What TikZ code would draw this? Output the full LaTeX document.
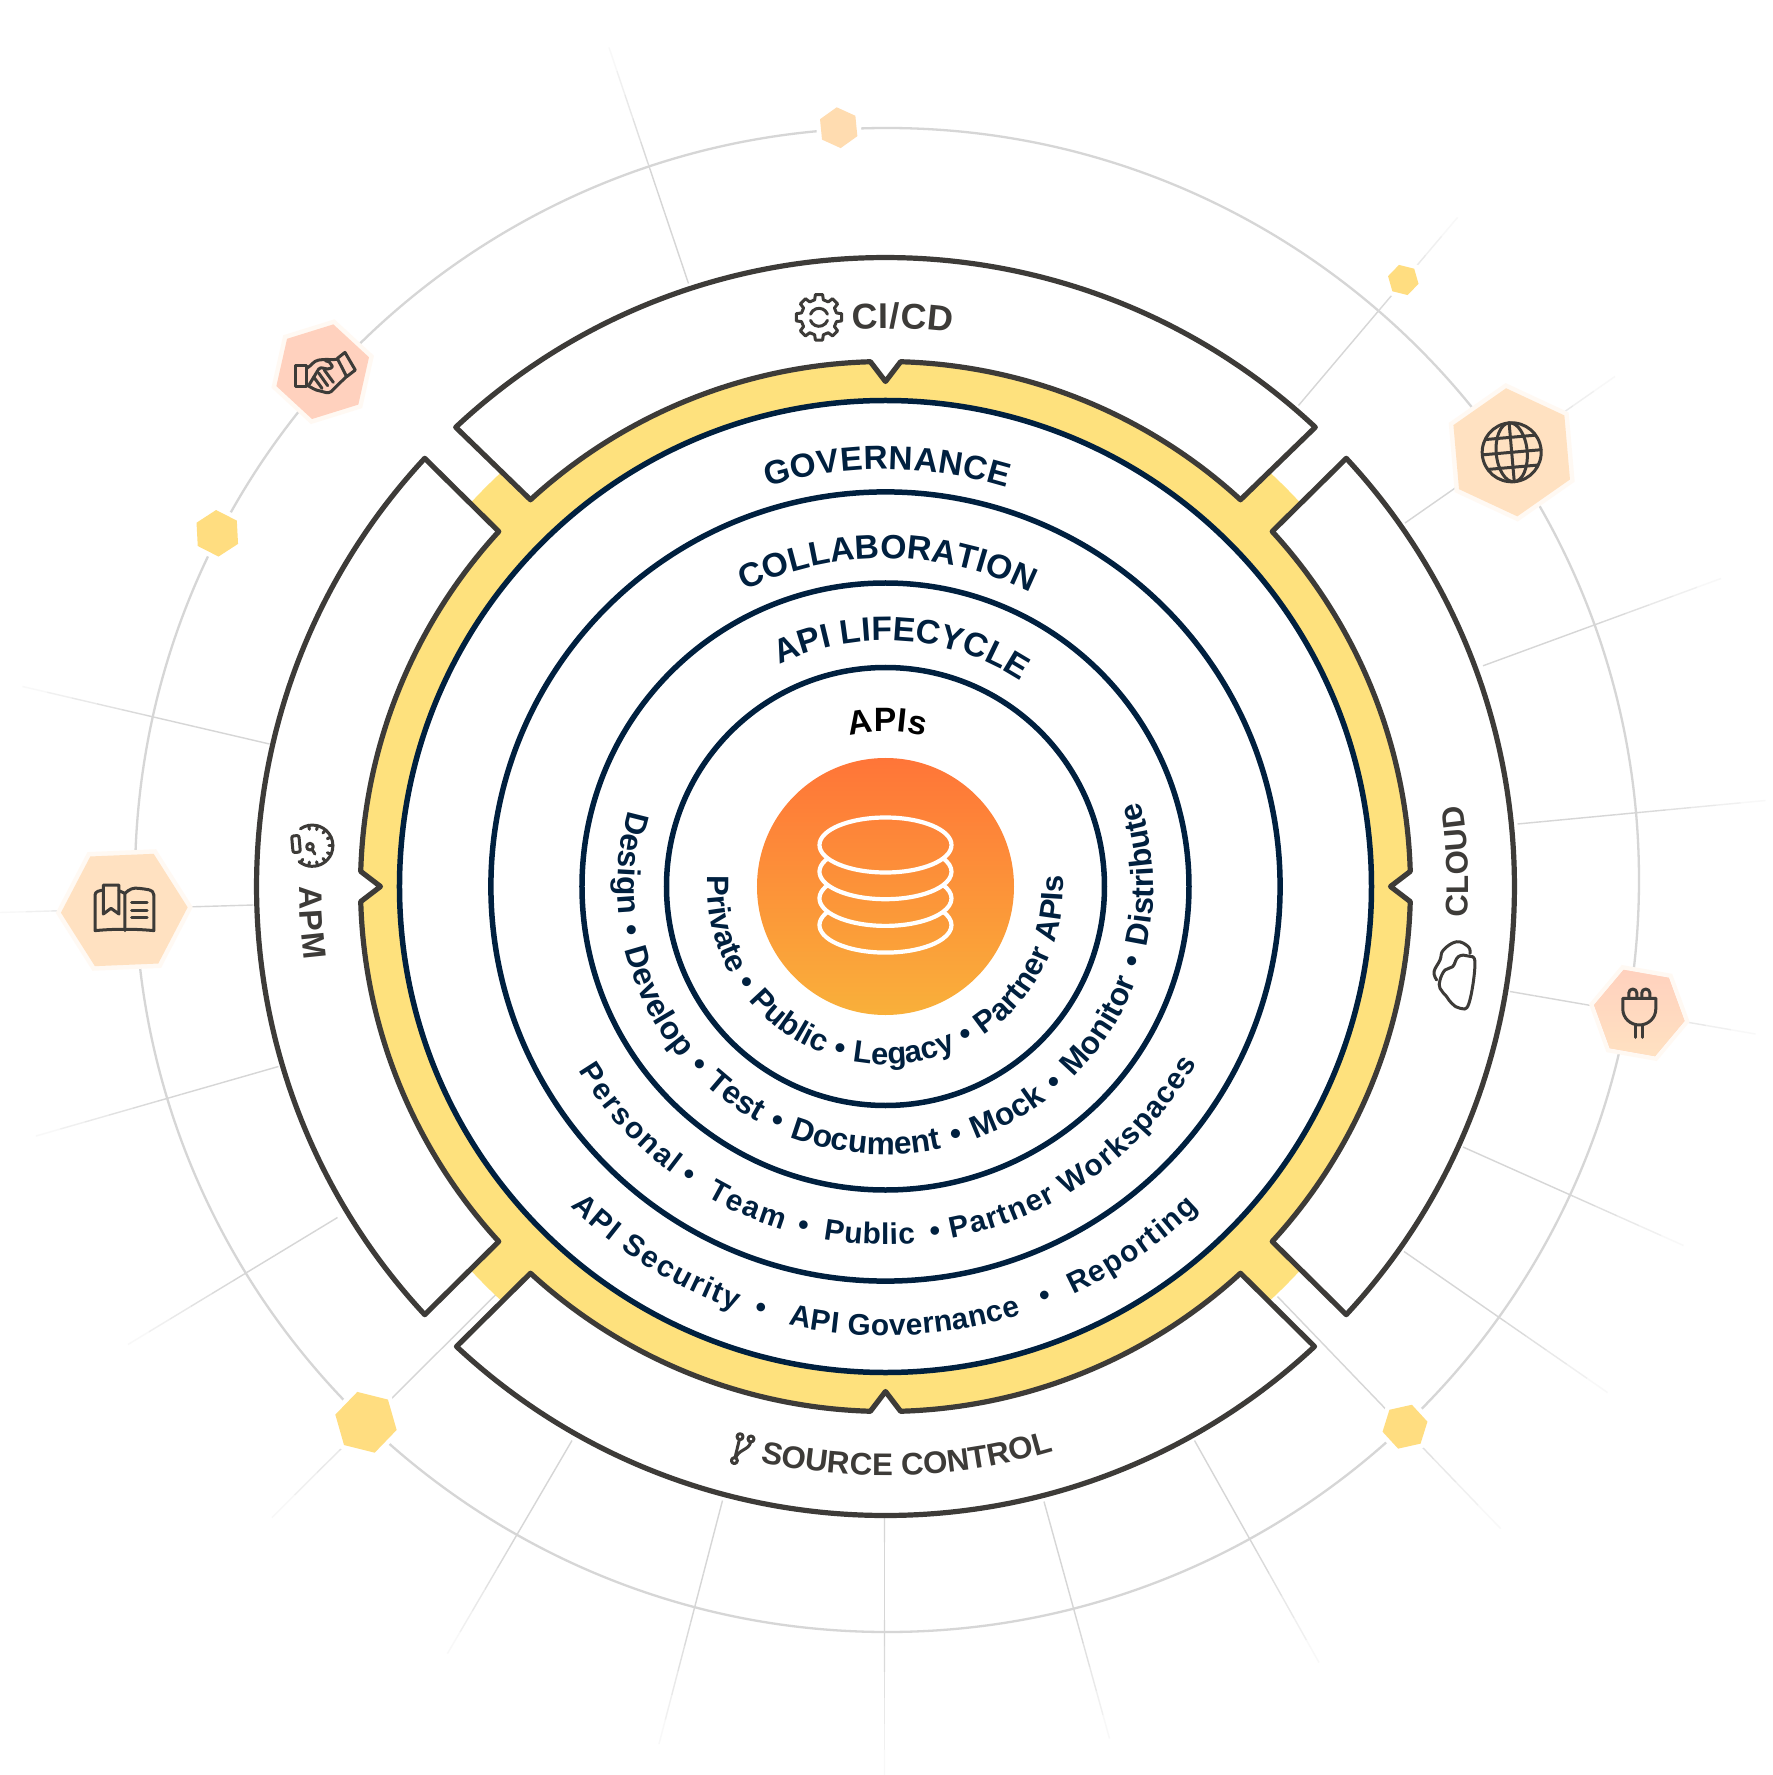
\documentclass[tikz,border=0pt]{standalone}
\usepackage{fontspec}
\setmainfont{Liberation Sans}
\usetikzlibrary{shapes.geometric,decorations.text,calc}
\definecolor{navy}{HTML}{00203F}
\definecolor{band}{HTML}{3D3B38}
\definecolor{grid}{HTML}{D6D6D6}
\definecolor{ribbon}{HTML}{FEE17D}
\definecolor{sand}{HTML}{FFE1C1}
\definecolor{apricot}{HTML}{FFDCB0}
\definecolor{honey}{HTML}{FFDD80}
\definecolor{coral}{HTML}{FFD1BE}
\definecolor{halo}{HTML}{FFF9F3}
\definecolor{coretop}{HTML}{FF7538}
\definecolor{corelow}{HTML}{F9B03A}
\newcommand{\arclabel}[7]{%
  \path[decorate, decoration={text along path, text align={#5},
    text={|\fontsize{#6}{11}\selectfont\bfseries\color{#7}|#4}}]
    (#2:#1) arc[start angle=#2, end angle=#3, radius=#1];}

\begin{document}
\begin{tikzpicture}[
  hexnode/.style n args={3}{regular polygon, regular polygon sides=6, inner sep=0pt, outer sep=0pt,
    minimum size=#1cm, shape border rotate=#2, fill=#3},
  ringed/.style={preaction={draw=#1, line width=.09cm}},
  iconline/.style={draw=band, line width=.03cm, line join=round, line cap=round},
  iconunit/.style={x=.00333cm, y=.00333cm},
  bandline/.style={draw=band, fill=white, line width=.052cm, line join=round},
  dbline/.style={draw=white, line width=.042cm}
]
\useasboundingbox (-8.855,-8.885) rectangle (8.865,8.865);
\fill[white] (-8.855,-8.885) rectangle (8.865,8.865);

% grey orbit and spokes
\draw[grid, line width=.023cm] (.015,.065) circle (7.52);
\foreach \ax/\ay/\bx/\by in {-1.97/6.03/-2.765/8.39, 4.13/4.81/5.72/6.69, 5.195/3.635/7.295/5.10,
  5.975/2.207/8.355/3.08, 6.32/.625/8.80/.86, 6.245/-1.05/8.70/-1.475, 5.775/-2.605/7.98/-3.59,
  5.185/-3.65/7.22/-5.06, 3.92/-4.10/6.15/-6.42, 3.09/-5.54/4.335/-7.76, 1.585/-6.15/2.24/-8.52,
  -.01/-6.30/-.01/-8.89, -1.63/-6.14/-2.265/-8.575, -3.135/-5.54/-4.38/-7.67, -3.895/-4.08/-6.135/-6.31,
  -5.48/-3.31/-7.575/-4.58, -6.07/-1.80/-8.495/-2.495, -6.32/-.185/-8.855/-.26, -6.16/1.425/-8.63/2.0}
  \foreach \t in {0,...,9} {
    \pgfmathsetmacro\shadeval{min(100,(10-\t)*18)}
    \draw[grid!\shadeval, line width=.014cm]
      ($(\ax,\ay)!\t/10!(\bx,\by)$) -- ($(\ax,\ay)!{(\t+1)/10}!(\bx,\by)$);
  }

% hexagons
\node[hexnode={.41}{35.6}{apricot}, ringed=white] (hextop) at (-.468,7.588) {};
\node[hexnode={.314}{46}{honey}, ringed=white] (hexkey) at (5.178,6.065) {};
\node[hexnode={.466}{33}{honey}, ringed=white] (hexleft) at (-6.682,3.532) {};
\node[hexnode={.632}{46}{honey}, ringed=white] (hexlow) at (-5.195,-5.358) {};
\node[hexnode={.46}{12.6}{honey}, ringed=white] (hexright) at (5.195,-5.402) {};
\node[hexnode={1.286}{35}{sand}, ringed=halo] (globe) at (6.262,4.342) {};
\node[hexnode={.97}{17.3}{coral}, ringed=halo] (shake) at (-5.628,5.148) {};
\node[hexnode={1.268}{2.4}{sand}, ringed=halo] (book) at (-7.612,-.235) {};
\node[hexnode={.918}{50}{coral}, ringed=halo, top color=coral, bottom color=sand] (plug) at (7.538,-1.265) {};

% globe icon
\begin{scope}[shift={(globe.center)}, rotate=5, iconline]
  \draw (0,0) circle (.295);
  \draw (0,0) ellipse (.155 and .295);
  \draw (0,-.295) -- (0,.295);
  \draw (-.295,0) -- (.295,0);
  \draw (-.25,.15) -- (.25,.15);
  \draw (-.25,-.15) -- (.25,-.15);
\end{scope}
% plug icon
\begin{scope}[shift={(plug.center)}, iconline]
  \draw (-.165,.147) -- (.165,.147) -- (.165,.04) to[out=-90,in=0] (0,-.12) to[out=180,in=-90] (-.165,.04) -- cycle;
  \draw (-.105,.147) -- (-.105,.2) arc[start angle=180, end angle=0, radius=.04] -- (-.025,.147);
  \draw (.025,.147) -- (.025,.2) arc[start angle=180, end angle=0, radius=.04] -- (.105,.147);
  \draw (-.035,-.12) -- (-.035,-.243);
  \draw (.035,-.12) -- (.035,-.243);
\end{scope}
% book icon
\begin{scope}[shift={(book.center)}, iconunit, iconline]
  \draw (-63,60) to[out=190,in=90] (-88,45) -- (-88,-62) to[out=5,in=180] (2,-58) to[out=0,in=175] (89,-62) -- (89,45);
  \draw (2,-62) -- (2,50) to[out=45,in=170] (45,65) to[out=-10,in=90] (89,45);
  \draw (-16,58) -- (2,50);
  \draw (-63,75) -- (-16,75) -- (-16,-12) -- (-40,5) -- (-63,-12) -- cycle;
  \foreach \y in {22,-2,-23} \draw (22,\y) -- (69,\y);
\end{scope}
% handshake icon
\begin{scope}[shift={(shake.center)}, iconunit, iconline]
  \draw (-83,20) -- (-48,20) -- (-48,-45) -- (-83,-45) -- cycle;
  \draw (44,40) -- (67,58) -- (98,5) -- (72,-15) -- cycle;
  \draw (-48,10) to[out=30,in=190] (-12,35) to[out=10,in=185] (44,37);
  \draw (-40,-38) -- (-12,8) to[out=50,in=180] (15,8) to[out=0,in=-60] (28,18) to[out=120,in=10] (8,33);
  \draw (-48,-40) -- (-30,-50) to[out=-30,in=170] (-8,-58) to[out=-10,in=215] (25,-60) -- (74,-12);
  \draw (-27,-16) -- (-2,-50);
  \draw (-12,-4) -- (15,-42);
  \draw (5,5) -- (32,-32);
\end{scope}

% yellow ribbon with its four corner tabs
\fill[ribbon] (0,0) circle (5.25);
\foreach \a in {45,135,225,315}
  \fill[ribbon] (\a-4:5) -- (\a-4:5.65) arc[start angle=\a-4, end angle=\a+4, radius=5.65] -- (\a+4:5) -- cycle;

% outer bands
\foreach \a/\w in {0/42.9,90/43.1,180/42.9,270/43}
  \draw[bandline, rotate=\a] (-\w:6.29) arc[start angle=-\w, end angle=\w, radius=6.29]
    -- (42.55:5.25) arc[start angle=42.55, end angle=1.65, radius=5.25]
    -- (0:5.05) -- (-1.65:5.25) arc[start angle=-1.65, end angle=-42.55, radius=5.25] -- cycle;

% rings and core
\draw[navy, fill=white, line width=.055cm] (0,0) circle (4.86);
\foreach \r in {3.946,3.035,2.19} \draw[navy, line width=.055cm] (0,0) circle (\r);
\node[circle, minimum size=2.57cm, inner sep=0pt, top color=coretop, bottom color=corelow] (core) at (0,0) {};
\foreach \y in {-.386,-.119,.148}
  \draw[dbline] (0,\y) ++(150:.66 and .275) arc[start angle=150, end angle=390, x radius=.66, y radius=.275];
\draw[dbline] (0,.415) ellipse (.66 and .275);

% ring titles
\arclabel{4.17}{106.5}{73}{GOVERNANCE}{fit to path}{9.5}{navy}
\arclabel{3.28}{115.5}{64}{COLLABORATION}{fit to path}{9.6}{navy}
\arclabel{2.46}{115.5}{57}{API LIFECYCLE}{fit to path}{9.6}{navy}
\arclabel{1.55}{103.4}{75.4}{APIs}{fit to path}{9.6}{black}
% ring contents
\arclabel{1.78}{176.5}{363.5}{Private • Public • Legacy • Partner APIs}{fit to path stretching spaces}{8.8}{navy}
\arclabel{2.68}{163.5}{378.5}{Design • Develop • Test • Document • Mock • Monitor • Distribute}{fit to path stretching spaces}{9}{navy}
\arclabel{3.58}{211}{233.4}{Personal}{fit to path}{8.5}{navy}
\arclabel{3.58}{240}{253.3}{Team}{fit to path}{8.5}{navy}
\arclabel{3.58}{260}{274.8}{Public}{fit to path}{8.5}{navy}
\arclabel{3.58}{280.6}{330.5}{Partner Workspaces}{fit to path}{8.5}{navy}
\arclabel{4.49}{225.4}{250.6}{API Security}{fit to path}{8.5}{navy}
\arclabel{4.49}{257.5}{287.6}{API Governance}{fit to path}{8.5}{navy}
\arclabel{4.49}{294.7}{314.3}{Reporting}{fit to path}{8.5}{navy}
\foreach \r/\m in {3.58/235.7,3.58/256.5,3.58/278.2,4.49/253.6,4.49/291.3} {
  \arclabel{\r}{\m-8}{\m+8}{•}{center}{8.5}{navy}
}
% band labels
\arclabel{5.58}{93.4}{83.1}{CI/CD}{fit to path}{10.2}{band}
\arclabel{5.83}{-3}{8}{CLOUD}{fit to path}{8.9}{band}
\arclabel{5.86}{180}{187.2}{APM}{fit to path}{9.2}{band}
\arclabel{5.89}{257.7}{286.5}{SOURCE CONTROL}{fit to path}{8.9}{band}

% band icons
\coordinate (gearmark) at (-.665,5.692);
\coordinate (cloudmark) at (5.695,-.885);
\coordinate (gaugemark) at (-5.732,.408);
\coordinate (forkmark) at (-1.438,-5.618);
\begin{scope}[shift={(gearmark)}, iconline]
  \draw (-14:.18) foreach \g in {0,45,...,315} { -- (\g-14:.18) -- (\g-9:.23) -- (\g+9:.23) -- (\g+14:.18) -- (\g+31:.18)} -- cycle;
  \draw (20:.09) arc[start angle=20, end angle=160, radius=.09];
  \draw (200:.09) arc[start angle=200, end angle=340, radius=.09];
\end{scope}
\begin{scope}[shift={(cloudmark)}, iconunit, iconline]
  \draw plot[smooth cycle, tension=.7] coordinates {(60,35) (42,-85) (15,-100) (-10,-85) (-25,-65) (-45,-40) (-45,-15) (-30,15) (-7,25) (10,55) (40,57)};
  \draw plot[smooth, tension=.7] coordinates {(-55,-15) (-63,10) (-45,45) (-35,75) (5,100) (40,85) (45,65)};
\end{scope}
\begin{scope}[shift={(gaugemark)}, iconunit, iconline]
  \draw (125:62) arc[start angle=125, end angle=-130, radius=62];
  \foreach \k in {100,75,...,-125} \draw (\k:62) -- (\k:50);
  \draw[rounded corners=.02cm, rotate around={5:(-49,5)}] (-60,-20) rectangle (-38,30);
  \draw (-7,-3) circle (10);
  \draw (-1,-11) -- (8,-25);
\end{scope}
\begin{scope}[shift={(forkmark)}, iconunit, iconline]
  \draw (-5,35) circle (9);
  \draw (28,28) circle (9);
  \draw (-22,-37) circle (9);
  \draw (-7,26) -- (-20,-28);
  \draw (27,19) to[out=-100,in=30] (5,-5) to[out=210,in=70] (-18,-29);
\end{scope}
\end{tikzpicture}
\end{document}
